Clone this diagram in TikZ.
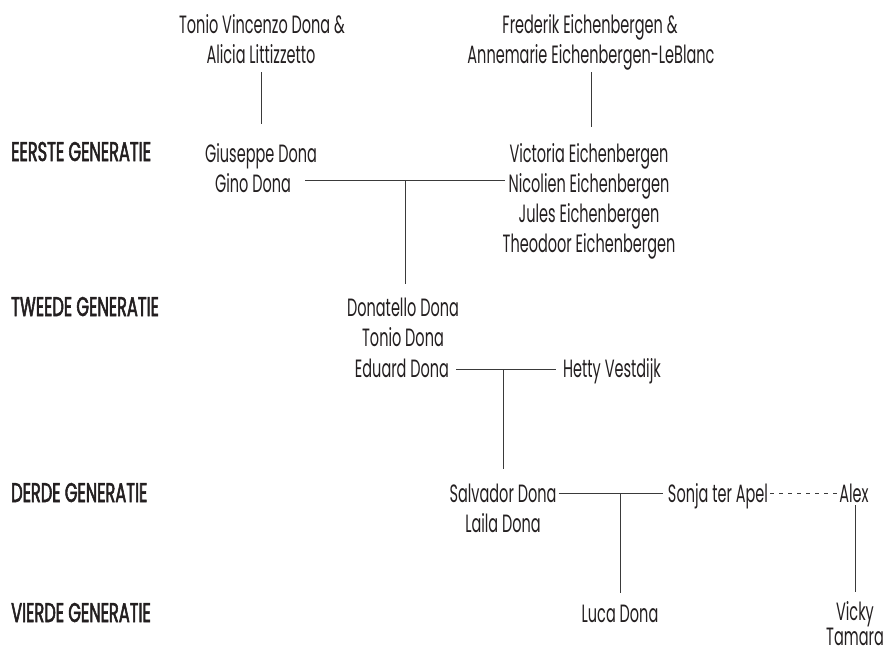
\documentclass[tikz,border=0pt]{standalone}
\usepackage{fontspec}
\setmainfont{Poppins}[FakeStretch=0.58]
\newfontfamily\labfont{Poppins}[FakeStretch=0.6,FakeBold=2]
\usetikzlibrary{calc}
\definecolor{ink}{HTML}{231F20}
\definecolor{wire}{HTML}{3A3A3A}
\begin{document}
\begin{tikzpicture}[x=1pt,y=-1pt,
  nm/.style={anchor=base,inner sep=0pt,font=\fontsize{25}{30}\selectfont,text=ink},
  lab/.style={anchor=base west,inner sep=0pt,font=\labfont\fontsize{27}{30}\selectfont,text=ink},
  conn/.style={draw=wire,line width=0.9pt},
  dconn/.style={conn,dash pattern=on 4pt off 5pt}]
\useasboundingbox (0,0) rectangle (884,654);
\node[nm] (tvd) at (262,33) {Tonio Vincenzo Dona \&};
\node[nm] (ali) at (261,63) {Alicia Littizzetto};
\node[nm] (fre) at (590,33) {Frederik Eichenbergen \&};
\node[nm] (ann) at (591,63) {Annemarie Eichenbergen-LeBlanc};
\node[lab] (g1) at (11,161) {EERSTE GENERATIE};
\node[nm] (giu) at (261,162) {Giuseppe Dona};
\node[nm] (gin) at (253,192) {Gino Dona};
\node[nm] (vic) at (589,162) {Victoria Eichenbergen};
\node[nm] (nic) at (589,192) {Nicolien Eichenbergen};
\node[nm] (jul) at (589,222) {Jules Eichenbergen};
\node[nm] (the) at (589,252) {Theodoor Eichenbergen};
\node[lab] (g2) at (11,316) {TWEEDE GENERATIE};
\node[nm] (don) at (403,316) {Donatello Dona};
\node[nm] (ton) at (403,346) {Tonio Dona};
\node[nm] (edu) at (402,377) {Eduard Dona};
\node[nm] (het) at (612,377) {Hetty Vestdijk};
\node[lab] (g3) at (11,502) {DERDE GENERATIE};
\node[nm] (sal) at (503,502) {Salvador Dona};
\node[nm] (lai) at (503,532) {Laila Dona};
\node[nm] (son) at (718,502) {Sonja ter Apel};
\node[nm] (ale) at (854,502) {Alex};
\node[lab] (g4) at (11,622) {VIERDE GENERATIE};
\node[nm] (luc) at (620,622) {Luca Dona};
\node[nm] (vik) at (855,620) {Vicky};
\node[nm] (tam) at (855,645) {Tamara};
% connectors
\draw[conn] ($(ali.base)+(0,9)$) -- ($(ali.base |- giu.base)+(0,-38)$);
\draw[conn] ($(ann.base)+(0,9)$) -- ($(ann.base |- vic.base)+(0,-35)$);
\draw[conn] ($(gin.base east)+(14,-12)$) -- ($(nic.base west)+(-3,-12)$);
\coordinate (j1) at ($(don.base |- gin.base)+(2,-12)$);
\draw[conn] (j1) -- ($(j1 |- don.base)+(0,-32)$);
\draw[conn] ($(edu.base east)+(7,-8)$) -- ($(het.base west)+(-7,-8)$);
\coordinate (j2) at ($(sal.base |- edu.base)+(0,-8)$);
\draw[conn] (j2) -- ($(sal.base)+(0,-33)$);
\draw[conn] ($(sal.base east)+(2,-9)$) -- ($(son.base west)+(-5,-9)$);
\coordinate (j3) at ($(luc.base |- sal.base)+(0,-9)$);
\draw[conn] (j3) -- ($(luc.base)+(0,-29)$);
\draw[dconn] ($(son.base east)+(2,-9)$) -- ($(ale.base west)+(-2,-9)$);
\draw[conn] ($(ale.base)+(1,3)$) -- ($(vik.base)+(0,-28)$);
\end{tikzpicture}
\end{document}
